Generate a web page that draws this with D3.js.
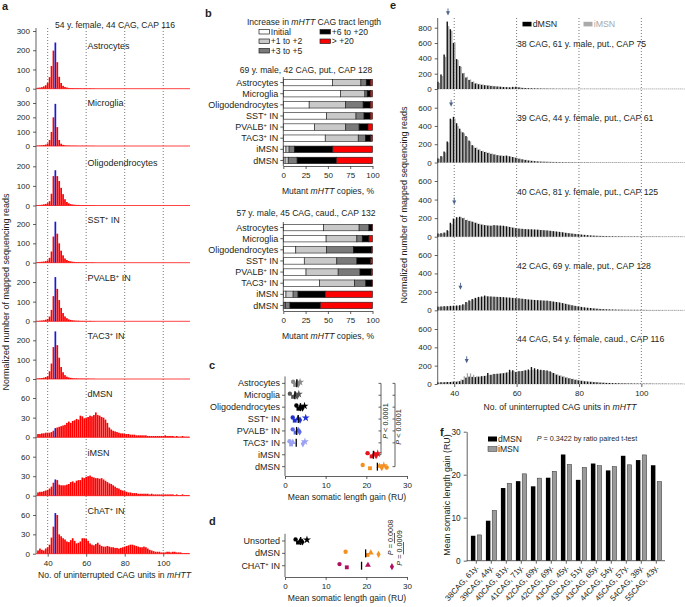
<!DOCTYPE html>
<html><head><meta charset="utf-8">
<script src="https://cdn.jsdelivr.net/npm/d3@7/dist/d3.min.js"></script>
<style>html,body{margin:0;padding:0;background:#fff;} svg{display:block;font-family:"Liberation Sans",Arial,sans-serif;}</style>
</head><body>
<svg id="fig" width="685" height="607"></svg>
<script>
// ======================= DATA =======================
const cagUnits = d3.range(35, 114);           // CAG lengths 35..113 (x categories)
const aInherited = 44;
const aTitle = "54 y. female, 44 CAG, CAP 116";
const aCells = ["Astrocytes","Microglia","Oligodendrocytes","SST^+ IN","PVALB^+ IN","TAC3^+ IN","dMSN","iMSN","ChAT^+ IN"];
const aXTicks = [40, 60, 80, 100];
const aAstro = [5,6,8,12,18,30,60,118,198,240, 138,62,30,15,9,6,4,3,3,2, 2,2,2,1,2,1,1,2,1,1];
const aMicro = [3,4,5,7,10,18,42,98,200,294, 132,42,16,8,5,3,3,2,2,2, 2,1,1,2,1,1,1,1,1,1];
const aOligo = [2,3,4,6,8,12,22,60,150,180, 150,125,90,58,32,18,11,7,5,4, 3,3,2,2,2,2,1,2,1,1];
const aSST   = [3,4,5,6,8,12,25,58,135,212, 150,100,62,38,22,14,9,7,5,4, 3,3,2,2,2,2,2,1,2,1];
const aPVALB = [2,3,4,5,8,12,24,58,128,225, 165,108,68,42,25,16,10,7,5,4, 3,3,2,2,2,2,1,2,1,1];
const aTAC3  = [3,4,5,7,10,15,40,80,165,246, 175,110,62,35,20,12,8,6,4,3, 3,2,2,2,2,1,2,1,1,1];
const aDMSN  = [5,5,6,6,7,7,7,8,10,14, 15,16,17,18,19,22,24,22,25,26, 28,27,33,32,29,30,31,33,32,34,
  38,34,33,31,30,27,22,15,12,10, 9,8,7,6,6,5,5,5,4,4, 4,3,3,3,3,3,3,2,2,2, 2,2,2,2,2,2,3,2,2,2, 2,1,2,1,1,2,1,1,1];
const aIMSN  = [5,6,6,7,8,9,11,14,20,25, 24,17,16,16,16,17,18,21,22,20, 23,24,24,28,27,29,30,31,29,28,
  27,27,26,27,25,23,21,19,18,16, 14,12,11,9,8,7,6,5,5,4, 4,4,3,3,3,3,3,3,2,3, 2,2,2,2,2,2,2,2,2,2, 2,1,2,1,1,2,1,1,1];
const aChAT  = [5,8,6,5,8,10,14,25,42,63, 60,30,27,24,22,19,18,21,24,20, 16,17,19,24,24,23,20,16,14,13,
  15,17,14,12,11,11,12,11,10,10, 9,9,8,9,10,11,12,13,14,14, 13,12,11,10,10,11,10,8,6,5, 4,3,3,3,2,2,2,3,3,2, 3,3,2,2,2,1,1,1,1];
const aYTicks = [[0,100,200,300],[0,100,200,300],[0,100,200],[0,100,200],[0,100,200],[0,100,200],[0,30,60],[0,30,60],[0,30,60]];
const aYMax = [300,300,200,200,200,200,60,60,60];

// panel b
const bCats = ["Astrocytes","Microglia","Oligodendrocytes","SST^+ IN","PVALB^+ IN","TAC3^+ IN","iMSN","dMSN"];
const bKeys = ["Initial","+1 to +2","+3 to +5","+6 to +20","> +20"];
const bTitle1 = "69 y. male, 42 CAG, put., CAP 128";
const b1Initial = [55,64,29,48.5,35,47,3,2];
const b1Plus1   = [32,27.5,41,33,35,37,3.5,3.5];
const b1Plus3   = [6,2.5,19.5,9,15,8,6,10];
const b1Plus6   = [4.5,3.5,8,7,10,6,43,44];
const b1Over20  = [2.5,2.5,2.5,2.5,5,2,44.5,40.5];
const bTitle2 = "57 y. male, 45 CAG, caud., CAP 132";
const b2Initial = [45,48,14,23.5,25.5,40.5,3,1];
const b2Plus1   = [40,34.5,34.5,36.5,36,39.5,8,1.5];
const b2Plus3   = [11,6,30,22.5,24.5,12.5,5.5,5];
const b2Plus6   = [3.5,7.5,20.5,15.5,12.5,7,30.5,34];
const b2Over20  = [0.5,4,1,2,1.5,0.5,53,58.5];
const bXTicks = [0,25,50,75,100];

// panel c
const cCats = ["Astrocytes","Microglia","Oligodendrocytes","SST^+ IN","PVALB^+ IN","TAC3^+ IN","iMSN","dMSN"];
const cAstro = [2.0,2.5,3.0,3.3,3.7];
const cMicro = [1.2,2.0,2.6,3.0,3.4];
const cOligo = [2.8,3.3,3.8,4.3,4.8];
const cSST   = [1.9,2.4,3.2,3.7,5.1];
const cPVALB = [1.9,2.6,3.3,3.6];
const cTAC3  = [1.1,1.5,1.9,4.4,4.9];
const cIMSN  = [20.3,21.3,21.9,22.4,22.8];
const cDMSN  = [19.1,20.9,23.2,23.8,24.3,25.0];
const gainTicks = [0,10,20,30];

// panel d
const dCats = ["Unsorted","dMSN","CHAT^+ IN"];
const dUnsorted = [2.6,3.2,3.8,4.3,5.4];
const dDMSN = [14.9,20.3,21.1,23.0];
const dChAT = [13.4,15.2,20.4,26.3];

// panel e
const eTitles = ["38 CAG, 61 y. male, put., CAP 75","39 CAG, 44 y. female, put., CAP 61","40 CAG, 81 y. female, put., CAP 125","42 CAG, 69 y. male, put., CAP 128","44 CAG, 54 y. female, caud., CAP 116"];
const eInherited = [38,39,40,42,44];
const eArrowLevel = [960,610,346,222,226];
const eYMax = [800,600,600,600,600];
const eYTicks = [[0,200,400,600,800],[0,200,400,600],[0,200,400,600],[0,200,400,600],[0,200,400,600]];
const e1D = [95,190,450,880,780,600,390,300,205,150, 118,92,72,62,55,50,45,40,36,33, 30,26,24,22,28,30,22,15,12,10, 9,8,7,6,5,5,4,4,3,3, 3,3,3,2,2,2,2,2,2,2, 2,2,2,2,2,2,1,1,1,1, 1,1,1,1,1,1,1,1,1,1, 1,1,1,1,1,1,1,1,1];
const e1I = [80,170,420,820,760,610,380,290,210,160, 125,100,80,68,60,52,48,42,38,34, 30,27,25,22,25,26,20,16,13,11, 9,8,7,6,6,5,5,4,4,3, 3,3,3,3,2,2,2,2,2,2, 2,2,2,2,2,1,1,1,1,1, 1,1,1,1,1,1,1,1,1,1, 1,1,1,1,1,1,1,1,1];
const e2D = [45,70,120,230,480,500,430,370,330,290, 240,190,160,140,125,115,105,95,88,80, 75,72,76,68,60,52,42,35,28,22, 18,15,12,10,9,8,7,6,6,5, 5,4,4,4,3,3,3,3,3,2, 2,2,2,2,2,2,2,2,2,1, 1,1,1,1,1,1,1,1,1,1, 1,1,1,1,1,1,1,1,1];
const e2I = [40,65,110,220,470,480,400,340,320,280, 230,185,165,145,130,118,108,98,90,82, 78,74,70,65,58,50,42,35,30,24, 20,16,13,11,10,9,8,7,6,6, 5,5,4,4,4,3,3,3,3,3, 2,2,2,2,2,2,2,2,2,2, 1,1,1,1,1,1,1,1,1,1, 1,1,1,1,1,1,1,1,1];
const e3D = [35,38,45,70,150,195,210,215,200,180, 170,162,150,138,130,125,120,118,125,122, 120,118,112,105,98,92,88,85,82,80, 80,78,76,72,70,68,64,60,56,52, 48,42,38,34,30,27,23,20,17,14, 12,10,9,8,7,6,6,5,5,5, 4,4,4,4,4,3,3,3,3,3, 3,3,2,2,2,2,2,2,2];
const e3I = [30,34,42,62,135,185,205,212,205,185, 172,160,152,140,132,126,122,120,122,120, 118,115,110,104,97,90,86,84,82,80, 78,77,75,72,68,65,62,58,54,50, 45,40,36,32,28,25,21,18,15,13, 11,10,9,8,7,6,6,5,5,4, 4,4,4,3,3,3,3,3,3,2, 2,2,2,2,2,2,2,2,2];
const e4D = [40,42,45,45,48,50,52,55,65,90, 108,122,135,145,150,160,152,150,148,146, 145,143,140,138,135,132,130,126,122,118, 115,112,110,108,106,105,100,95,90,85, 78,70,62,55,48,42,37,32,28,25, 21,18,15,13,11,10,9,8,7,7, 6,6,5,5,5,4,4,4,3,3, 3,3,3,2,2,2,2,2,2];
const e4I = [38,40,42,44,46,48,50,54,62,85, 102,118,130,140,148,152,150,148,146,144, 142,140,138,136,133,130,127,124,120,117, 114,111,109,107,104,102,98,93,88,82, 75,68,60,53,46,40,35,30,26,23, 20,17,14,12,11,9,8,7,7,6, 6,5,5,5,4,4,4,3,3,3, 3,3,2,2,2,2,2,2,2];
const e5D = [18,20,20,22,22,25,25,30,45,70, 80,78,75,80,85,88,120,100,110,112, 115,118,125,155,150,130,140,142,150,158, 185,172,162,155,152,148,138,120,102,90, 80,70,62,55,46,40,35,30,27,24, 21,19,16,14,12,11,10,9,8,7, 7,6,6,5,5,5,4,4,4,3, 3,3,3,3,2,2,2,2,2];
const e5I = [15,18,20,22,25,28,35,50,85,118, 115,100,85,82,88,92,100,105,108,112, 118,122,128,135,140,138,140,145,148,150, 155,152,150,148,145,140,130,118,105,95, 85,75,65,58,50,42,37,32,28,25, 22,19,17,15,13,12,10,9,8,8, 7,6,6,5,5,5,4,4,4,3, 3,3,3,3,2,2,2,2,2];

// panel f
const fLabels = ["38CAG, 61y.","39CAG, 44y.","40CAG, 81y.","41CAG, 71y.","42CAG, 69y.","42CAG, 69y.","43CAG, 45y.","43CAG, 51y.","43CAG, 65y.","44CAG, 54y.","45CAG, 57y.","54CAG, 38y.","55CAG, 43y."];
const fDMSN = [5.8,9.3,16.9,18.5,17.3,19.3,24.7,18.8,22.6,21.0,24.4,23.4,22.2];
const fIMSN = [6.0,11.7,18.0,20.2,19.2,20.8,22.4,21.7,22.1,21.9,22.3,24.6,18.4];
const fYTicks = [0,10,20,30];

// ======================= DRAWING =======================
const svg = d3.select("#fig");
const FONT = '"Liberation Sans", Arial, sans-serif';
const INK = "#231f20", AXC = "#3a3a3a";

function rich(t, s) {
  const parts = s.split(/(\*[^*]+\*|\^.)/).filter(p => p !== "");
  let shift = 0;
  parts.forEach(p => {
    const ts = t.append("tspan");
    if (p[0] === "^") { ts.attr("dy", -3).attr("font-size", "0.62em").text(p.slice(1)); shift = 3; return; }
    if (shift) { ts.attr("dy", shift); shift = 0; }
    if (p[0] === "*") ts.attr("font-style", "italic").text(p.slice(1, -1));
    else ts.text(p);
  });
  return t;
}
function txt(x, y, s, o = {}) {
  const t = svg.append("text").attr("x", x).attr("y", y)
    .attr("font-size", o.size || 8.6).attr("fill", o.fill || INK)
    .attr("text-anchor", o.anchor || "start");
  if (o.weight) t.attr("font-weight", o.weight);
  if (o.rotate) t.attr("transform", `rotate(${o.rotate},${x},${y})`);
  return rich(t, s);
}
function styleAxis(g, size = 8) {
  g.attr("font-family", FONT);
  g.select(".domain").attr("stroke", AXC).attr("stroke-width", 0.8);
  g.selectAll(".tick line").attr("stroke", AXC).attr("stroke-width", 0.8);
  g.selectAll(".tick text").attr("font-size", size).attr("fill", INK);
}
function vline(x, y1, y2, col = AXC, w = 0.8, dash = null) {
  const l = svg.append("line").attr("x1", x).attr("x2", x).attr("y1", y1).attr("y2", y2)
    .attr("stroke", col).attr("stroke-width", w);
  if (dash) l.attr("stroke-dasharray", dash);
  return l;
}
function hline(y, x1, x2, col = AXC, w = 0.8, dash = null) {
  const l = svg.append("line").attr("x1", x1).attr("x2", x2).attr("y1", y).attr("y2", y)
    .attr("stroke", col).attr("stroke-width", w);
  if (dash) l.attr("stroke-dasharray", dash);
  return l;
}

// ---------- Panel a ----------
txt(2, 10, "a", {weight: "bold", size: 11});
const aX = d3.scaleLinear().domain([34, 114]).range([36.1, 190.2]);
const aSeries = [aAstro, aMicro, aOligo, aSST, aPVALB, aTAC3, aDMSN, aIMSN, aChAT];
const aZero = [88.7, 146, 205.5, 262.7, 321.3, 379, 437.3, 495.7, 553.7];
const aTopY = [31, 103, 166.3, 224, 282, 340.3, 398, 456.7, 515];
aXTicks.forEach(v => vline(aX(v), 28, 553.7, "#555", 0.9, "0.9,2.1"));
txt(115, 28, aTitle, {anchor: "middle", size: 8.6});
aSeries.forEach((ser, i) => {
  const y = d3.scaleLinear().domain([0, aYMax[i]]).range([aZero[i], aTopY[i]]);
  hline(aZero[i], 36, 190, "#ff3030", 0.9);
  svg.append("g").selectAll("rect").data(ser).join("rect")
    .attr("x", (d, k) => aX(cagUnits[k]) - 0.85).attr("width", 1.7)
    .attr("y", d => y(d)).attr("height", d => aZero[i] - y(d))
    .attr("fill", (d, k) => cagUnits[k] === aInherited ? "#1a1ad2" : "#ff0000");
  const ax = svg.append("g").attr("transform", "translate(36,0)")
    .call(d3.axisLeft(y).tickValues(aYTicks[i]).tickSize(3).tickPadding(3));
  ax.select(".domain").remove();
  styleAxis(ax);
  txt(87.5, aZero[i] - 40, aCells[i], {size: 9});
});
vline(36, 28, 553.7);
{
  const ax = svg.append("g").attr("transform", "translate(0,553.7)")
    .call(d3.axisBottom(aX).tickValues(aXTicks).tickSize(3).tickSizeOuter(0).tickPadding(3.5));
  ax.select(".domain").remove();
  styleAxis(ax);
}
txt(114.5, 578, "No. of uninterrupted CAG units in *mHTT*", {anchor: "middle", size: 8.6});
txt(8.5, 292, "Normalized number of mapped sequencing reads", {anchor: "middle", size: 9, rotate: -90});

// ---------- Panel b ----------
txt(205, 17, "b", {weight: "bold", size: 11});
const bColors = ["#ffffff", "#c9c9c9", "#7a7a7a", "#000000", "#ff0000"];
txt(314, 25, "Increase in *mHTT* CAG tract length", {anchor: "middle", size: 8.6});
const legPos = [[259, 29.5], [259, 39], [259, 48.5], [320, 29.5], [320, 39]];
bKeys.forEach((k, i) => {
  svg.append("rect").attr("x", legPos[i][0]).attr("y", legPos[i][1]).attr("width", 10.5).attr("height", 4.5)
    .attr("fill", bColors[i]).attr("stroke", "#222").attr("stroke-width", 0.7);
  txt(legPos[i][0] + 11.8, legPos[i][1] + 5.3, k, {size: 8.6});
});
const bX = d3.scaleLinear().domain([0, 100]).range([283.3, 372.5]);
function bChart(title, titleY, r0, r1, segs) {
  txt(306, titleY, title, {anchor: "middle", size: 8.6});
  const y = d3.scaleBand().domain(bCats).range([r0, r1]).paddingInner(0.42).paddingOuter(0.21);
  const rows = bCats.map((c, i) => { const o = {cat: c}; bKeys.forEach((k, j) => o[k] = segs[j][i]); return o; });
  const stack = d3.stack().keys(bKeys)(rows);
  stack.forEach((layer, j) => {
    svg.append("g").selectAll("rect").data(layer).join("rect")
      .attr("x", d => bX(d[0])).attr("width", d => bX(d[1]) - bX(d[0]))
      .attr("y", d => y(d.data.cat)).attr("height", y.bandwidth())
      .attr("fill", bColors[j]).attr("stroke", "#1a1a1a").attr("stroke-width", 0.6);
  });
  vline(bX(0), r0, r1);
  bCats.forEach(c => {
    const cy = y(c) + y.bandwidth() / 2;
    hline(cy, bX(0) - 3, bX(0));
    txt(bX(0) - 5, cy + 3.1, c, {anchor: "end", size: 9});
  });
  const ax = svg.append("g").attr("transform", `translate(0,${r1})`)
    .call(d3.axisBottom(bX).tickValues(bXTicks).tickSize(3).tickSizeOuter(0).tickPadding(3.5));
  styleAxis(ax);
  txt(328, r1 + 28, "Mutant *mHTT* copies, %", {anchor: "middle", size: 8.6});
}
bChart(bTitle1, 73, 77, 166, [b1Initial, b1Plus1, b1Plus3, b1Plus6, b1Over20]);
bChart(bTitle2, 216, 222, 311, [b2Initial, b2Plus1, b2Plus3, b2Plus6, b2Over20]);

// ---------- Panels c & d ----------
const gX = d3.scaleLinear().domain([0, 30]).range([285, 407]);
const symTypes = [d3.symbolCircle, d3.symbolSquare, d3.symbolTriangle, d3.symbolDiamond, d3.symbolStar, d3.symbolCircle];
const jit = [-1.6, 1.6, -0.6, 1.0, -1.2, 0.8];
function dotPanel(cats, values, colors, r0, r1, axisY, tickY, labY) {
  const y = d3.scaleBand().domain(cats).range([r0, r1]);
  vline(285, r0 - 1, axisY);
  cats.forEach((c, i) => {
    const cy = y(c) + y.bandwidth() / 2;
    hline(cy, 282, 285);
    txt(280, cy + 3.1, c, {anchor: "end", size: 9});
    const vals = values[i];
    svg.append("g").selectAll("path").data(vals).join("path")
      .attr("transform", (d, k) => `translate(${gX(d)},${cy + jit[k]})`)
      .attr("d", (d, k) => d3.symbol().type(symTypes[k]).size(k === 4 ? 20 : 15)())
      .attr("fill", colors[i]);
    const m = d3.mean(vals);
    vline(gX(m), cy - 4, cy + 4, "#000", 1.3);
  });
  const ax = svg.append("g").attr("transform", `translate(0,${axisY})`)
    .call(d3.axisBottom(gX).tickValues(gainTicks).tickSize(3).tickSizeOuter(0).tickPadding(3));
  styleAxis(ax);
  txt(347, labY, "Mean somatic length gain (RU)", {anchor: "middle", size: 8.6});
  return y;
}
txt(209, 369, "c", {weight: "bold", size: 11});
const cY = dotPanel(cCats, [cAstro, cMicro, cOligo, cSST, cPVALB, cTAC3, cIMSN, cDMSN],
  ["#8a8a8a", "#555555", "#000000", "#1f2fd0", "#5a66e6", "#9ca2f2", "#e8141b", "#f59020"],
  377.4, 472.6, 476, 488, 500);
{
  const cc = c => cY(c) + cY.bandwidth() / 2;
  const glia = cCats.slice(0, 6);
  [[381, "iMSN", 388.5], [395, "dMSN", 400.5]].forEach(([bx, target, tx]) => {
    vline(bx, cc(glia[0]), cc(target), AXC, 0.8);
    glia.forEach(g => hline(cc(g), bx - 2.5, bx, AXC, 0.8));
    hline(cc(target), bx - 2.5, bx, AXC, 0.8);
    txt(tx, (cc(glia[0]) + cc(target)) / 2 + 2, "*P* < 0.0001", {anchor: "middle", size: 7.3, rotate: -90});
  });
}
txt(209, 525, "d", {weight: "bold", size: 11});
const dY = dotPanel(dCats, [dUnsorted, dDMSN, dChAT], ["#000000", "#f59020", "#b0105e"],
  534.8, 571.9, 577, 587, 601);
{
  const cc = c => dY(c) + dY.bandwidth() / 2;
  vline(394.5, cc("Unsorted") - 8, cc("dMSN") - 10, AXC, 0.8);
  txt(393, 537.5, "*P* = 0.0008", {anchor: "middle", size: 7.3, rotate: -90});
  vline(403.5, cc("Unsorted") + 1, cc("dMSN") + 1, AXC, 0.8);
  txt(402, 548, "*P* = 0.0009", {anchor: "middle", size: 7.3, rotate: -90});
}

// ---------- Panel e ----------
txt(390, 9, "e", {weight: "bold", size: 11});
const eX = d3.scaleLinear().domain([34.7, 114]).range([437.7, 685]);
const eZero = [89, 162.5, 236.7, 310.3, 384];
const eTopY = [27.7, 107.7, 181, 255, 329];
const eD = [e1D, e2D, e3D, e4D, e5D], eI = [e1I, e2I, e3I, e4I, e5I];
aXTicks.forEach(v => vline(eX(v), 18, 384, "#555", 0.9, "0.9,2.1"));
svg.append("rect").attr("x", 522.5).attr("y", 21.8).attr("width", 9).attr("height", 4.6).attr("fill", "#000");
txt(532.7, 27, "dMSN", {size: 8.8});
svg.append("rect").attr("x", 583.5).attr("y", 21.8).attr("width", 9).attr("height", 4.6).attr("fill", "#aaa");
txt(593.7, 27, "iMSN", {size: 8.8, fill: "#a8a8a8"});
eD.forEach((ser, i) => {
  const y = d3.scaleLinear().domain([0, eYMax[i]]).range([eZero[i], eTopY[i]]);
  hline(eZero[i], 437.7, 685, "#9a9a9a", 0.7, "1.2,0.8");
  svg.append("g").selectAll("rect").data(eI[i]).join("rect")
    .attr("x", (d, k) => eX(cagUnits[k]) + 0.05).attr("width", 1.3)
    .attr("y", d => y(d)).attr("height", d => eZero[i] - y(d)).attr("fill", "#a8a8a8");
  svg.append("g").selectAll("rect").data(ser).join("rect")
    .attr("x", (d, k) => eX(cagUnits[k]) - 1.45).attr("width", 1.4)
    .attr("y", d => y(d)).attr("height", d => eZero[i] - y(d)).attr("fill", "#111");
  const ax = svg.append("g").attr("transform", "translate(437.7,0)")
    .call(d3.axisLeft(y).tickValues(eYTicks[i]).tickSize(3).tickPadding(3));
  ax.select(".domain").remove();
  styleAxis(ax);
  txt(517, eZero[i] - 41.7, eTitles[i], {size: 8.7});
  const ax0 = eX(eInherited[i]), tip = y(eArrowLevel[i]);
  vline(ax0, tip - 7, tip - 3, "#4d6288", 0.9);
  svg.append("path").attr("d", `M${ax0 - 2},${tip - 4.2}L${ax0 + 2},${tip - 4.2}L${ax0},${tip}Z`).attr("fill", "#4d6288");
});
vline(437.7, 18, 384);
{
  const ax = svg.append("g").attr("transform", "translate(0,384)")
    .call(d3.axisBottom(eX).tickValues(aXTicks).tickSize(3).tickSizeOuter(0).tickPadding(3.5));
  ax.select(".domain").remove();
  styleAxis(ax);
}
txt(560, 410, "No. of uninterrupted CAG units in *mHTT*", {anchor: "middle", size: 8.6});
txt(407, 205, "Normalized number of mapped sequencing reads", {anchor: "middle", size: 9, rotate: -90});

// ---------- Panel f ----------
txt(440, 436, "f", {weight: "bold", size: 11});
const fY = d3.scaleLinear().domain([0, 30]).range([560.7, 431.7]);
const fX = d3.scaleBand().domain(d3.range(fLabels.length)).range([468.8, 663.8]);
{
  const ax = svg.append("g").attr("transform", "translate(466.7,0)")
    .call(d3.axisLeft(fY).tickValues(fYTicks).tickSize(3).tickSizeOuter(0).tickPadding(3));
  styleAxis(ax, 8.3);
}
hline(560.7, 466.7, 665);
fLabels.forEach((lab, i) => {
  const cx = fX(i) + fX.bandwidth() / 2;
  vline(cx, 560.7, 563.7);
  txt(cx + 2.5, 568, lab, {anchor: "end", size: 8, rotate: -48});
});
svg.append("g").selectAll("rect").data(fDMSN).join("rect")
  .attr("x", (d, i) => fX(i) + fX.bandwidth() / 2 - 5.4).attr("width", 4.5)
  .attr("y", d => fY(d)).attr("height", d => fY(0) - fY(d)).attr("fill", "#000");
svg.append("g").selectAll("rect").data(fIMSN).join("rect")
  .attr("x", (d, i) => fX(i) + fX.bandwidth() / 2 + 0.9).attr("width", 4.5)
  .attr("y", d => fY(d)).attr("height", d => fY(0) - fY(d)).attr("fill", "#9a9a9a")
  .attr("stroke", "#333").attr("stroke-width", 0.5);
svg.append("rect").attr("x", 488).attr("y", 436.5).attr("width", 9).attr("height", 5).attr("fill", "#000");
txt(498, 441.5, "dMSN", {size: 8.6});
svg.append("rect").attr("x", 488).attr("y", 446.5).attr("width", 9).attr("height", 5).attr("fill", "#9a9a9a").attr("stroke", "#333").attr("stroke-width", 0.5);
txt(498, 451.5, "iMSN", {size: 8.6});
txt(536.7, 441, "*P* = 0.3422 by ratio paired t-test", {size: 7.2});
txt(450, 495, "Mean somatic length gain (RU)", {anchor: "middle", size: 8.8, rotate: -90});
</script>
</body></html>
